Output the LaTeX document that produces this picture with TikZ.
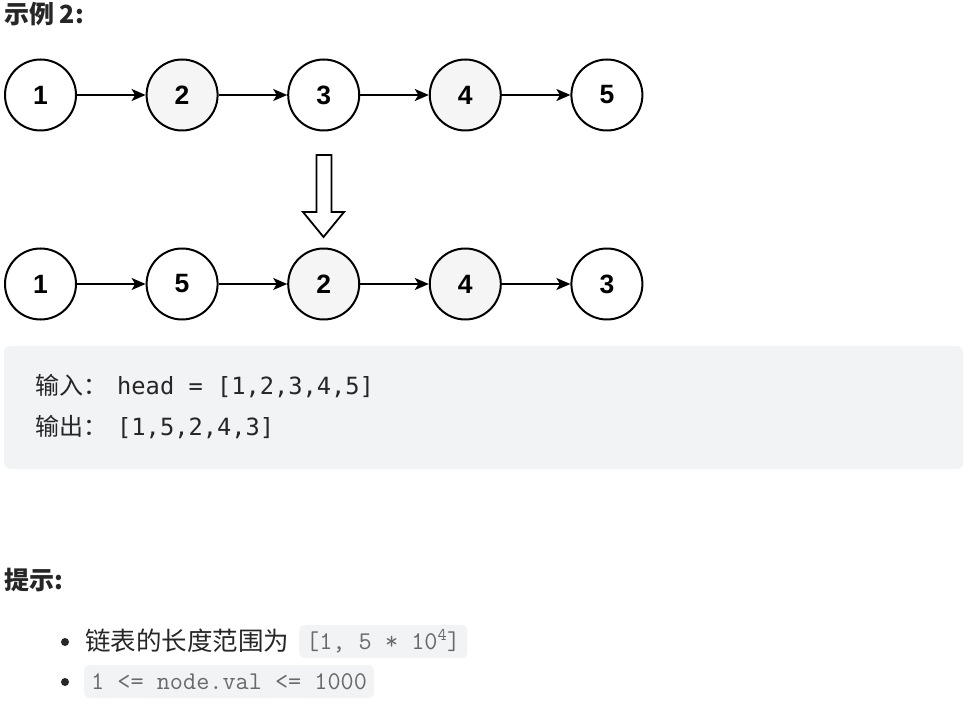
\documentclass[tikz,border=0pt]{standalone}
\usepackage{fontspec}
\setmainfont{Liberation Sans}
\newfontfamily\cjkfont{Noto Sans CJK SC}
\newfontfamily\monofont{DejaVu Sans Mono}
\usetikzlibrary{arrows.meta,positioning}

\definecolor{inkgray}{RGB}{38,38,38}
\definecolor{nodegray}{RGB}{245,245,245}
\definecolor{panelgray}{RGB}{242,243,245}
\definecolor{codetext}{RGB}{105,105,105}

\tikzset{
  listnode/.style={circle,draw=black,line width=2pt,minimum size=71pt,inner sep=0pt,
    font=\bfseries\fontsize{26.5}{26.5}\selectfont},
  link/.style={-{Stealth[length=14pt,width=12pt,inset=3.5pt]},line width=1.8pt},
  plain/.style={inner sep=0pt,anchor=base west,text=inkgray},
  bullet/.style={circle,fill=inkgray,inner sep=0pt,minimum size=8pt},
  codechip/.style={fill=panelgray,rounded corners=5pt,inner xsep=7pt,minimum height=33pt,
    anchor=west,text=codetext,font=\ttfamily\fontsize{25.5}{25.5}\selectfont}
}

\begin{document}
\begin{tikzpicture}[x=1pt,y=-1pt]
  \useasboundingbox (0,0) rectangle (968,708);
  \node[plain,font=\cjkfont\bfseries\fontsize{25}{25}\selectfont] (title) at (4,24) {示例 2:};

  % list before
  \foreach \v/\f [count=\i] in {1/white,2/nodegray,3/white,4/nodegray,5/white}
    \node[listnode,fill=\f] (a\i) at ({40.5+141.6*(\i-1)},95) {\v};
  % list after
  \foreach \v/\f [count=\i] in {1/white,5/white,2/nodegray,4/nodegray,3/white}
    \node[listnode,fill=\f] (b\i) at ({40.5+141.6*(\i-1)},284) {\v};
  \foreach \i [evaluate=\i as \j using int(\i+1)] in {1,...,4} {
    \draw[link] (a\i) -- (a\j);
    \draw[link] (b\i) -- (b\j);
  }

  % hollow arrow between the lists
  \draw[line width=1.8pt,line join=miter] (316.5,155) -- (331.5,155) -- (331.5,212)
    -- (344,212) -- (323.5,237) -- (303,212) -- (316.5,212) -- cycle;

  % example box
  \fill[panelgray,rounded corners=6pt] (4,346) rectangle (963,469);
  \node[plain,font=\cjkfont\fontsize{24}{24}\selectfont] (inlabel) at (35,394) {输入：};
  \node[plain,font=\monofont\fontsize{23.7}{23.7}\selectfont] (invalue) at (117,394) {head = [1,2,3,4,5]};
  \node[plain,font=\cjkfont\fontsize{24}{24}\selectfont] (outlabel) at (35,435) {输出：};
  \node[plain,font=\monofont\fontsize{23.7}{23.7}\selectfont] (outvalue) at (117,435) {[1,5,2,4,3]};

  % hints
  \node[plain,font=\cjkfont\bfseries\fontsize{25}{25}\selectfont] (hint) at (4,589) {提示:};
  \node[bullet] (dot1) at (65,642) {};
  \node[bullet] (dot2) at (65,682) {};
  \node[plain,font=\cjkfont\fontsize{25.5}{25.5}\selectfont] (range) at (85,650) {链表的长度范围为};
  \node[codechip] (rangecode) at (299,641.5) {[1, 5 * 10\textsuperscript{4}]};
  \node[codechip] (valcode) at (84,681.5) {1 <= node.val <= 1000};
\end{tikzpicture}
\end{document}
